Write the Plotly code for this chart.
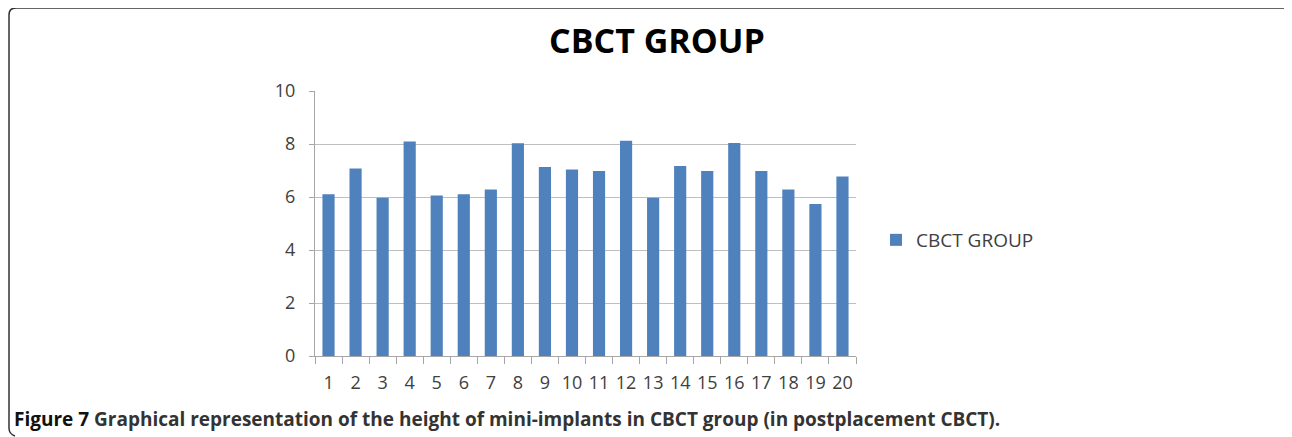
import plotly.graph_objects as go

categories = [str(i) for i in range(1, 21)]
values = [6.10, 7.08, 5.97, 8.09, 6.06, 6.10, 6.28, 8.03, 7.13, 7.04,
          6.98, 8.12, 5.97, 7.17, 6.98, 8.04, 6.98, 6.28, 5.74, 6.77]
series_name = "CBCT GROUP"
title_text = "CBCT GROUP"
caption_bold = "Figure 7"
caption_rest = " Graphical representation of the height of mini-implants in CBCT group (in postplacement CBCT)."
y_ticks = [0, 2, 4, 6, 8, 10]

OFF = 8  # default page body margin
W, H = 1292 - OFF, 437 - OFF
L, R, T, B = 315 - OFF, 856 - OFF, 91 - OFF, 356 - OFF


def px(x):
    return (x - OFF - L) / (R - L)


def py(y):
    return (B - (y - OFF)) / (B - T)


fig = go.Figure()
fig.add_trace(go.Bar(x=categories, y=values, name=series_name,
                     marker=dict(color="#4f81bd", line=dict(width=0)),
                     showlegend=True))

fig.update_layout(
    width=W, height=H,
    margin=dict(l=L, r=W - R, t=T, b=H - B, pad=0),
    paper_bgcolor="white", plot_bgcolor="white",
    bargap=0.55,
    font=dict(family="Open Sans", color="#404040"),
    showlegend=True,
    legend=dict(x=px(876), y=py(240), xanchor="left", yanchor="middle",
                font=dict(size=19, color="#404040", family="Open Sans"),
                itemwidth=30, bgcolor="rgba(0,0,0,0)"),
    xaxis=dict(type="category", showline=True, linecolor="#a6a6a6", linewidth=1,
               ticks="outside", ticklen=7, tickcolor="#a6a6a6", tickson="boundaries",
               tickangle=0,
               tickfont=dict(size=18, color="#404040"), showgrid=False,
               ticklabelstandoff=10),
    yaxis=dict(range=[0, 10], tickvals=y_ticks, showline=True, linecolor="#a6a6a6",
               linewidth=1, ticks="outside", ticklen=5, tickcolor="#a6a6a6",
               showgrid=True, gridcolor="#bfbfbf", gridwidth=1,
               tickfont=dict(size=18, color="#404040"), zeroline=False,
               ticklabelstandoff=10),
)

fig.add_annotation(text="<b>" + title_text + "</b>", xref="paper", yref="paper",
                   x=px(657), y=py(40), xanchor="center", yanchor="middle",
                   showarrow=False, font=dict(size=34, color="#000000", family="Open Sans"))

fig.add_annotation(text="<b><span style='color:#111111'>" + caption_bold + "</span>" + caption_rest + "</b>",
                   xref="paper", yref="paper", x=px(12), y=py(419),
                   xanchor="left", yanchor="middle", showarrow=False,
                   font=dict(size=19, color="#333333", family="Open Sans"))

# frame (left + top edge with rounded corners)
r = 7
path = (f"M {px(15)},{py(436)} Q {px(9)},{py(434)} {px(9)},{py(428)} "
        f"L {px(9)},{py(8 + r)} Q {px(9)},{py(8)} {px(9 + r)},{py(8)} "
        f"L {px(1286)},{py(8)} Q {px(1290)},{py(8)} {px(1292)},{py(12)}")
fig.add_shape(type="path", path=path, xref="paper", yref="paper",
              line=dict(color="#333333", width=1.5))

fig.write_html("out.html")
